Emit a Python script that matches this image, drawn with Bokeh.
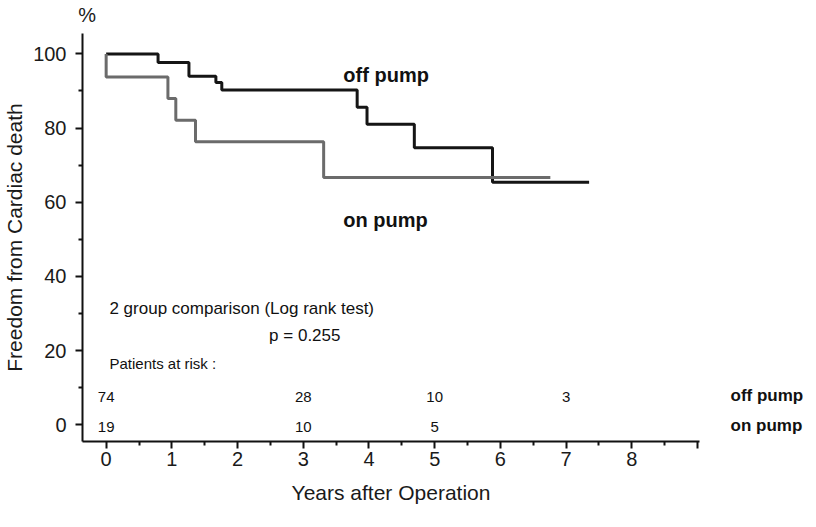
from bokeh.plotting import figure
from bokeh.models import Label, FixedTicker, ColumnDataSource, Range1d, LinearAxis
from bokeh.core.properties import value
from bokeh.embed import file_html
from bokeh.resources import INLINE

# Kaplan-Meier curves (years, % free from cardiac death)
off_years = [0, 0.79, 1.26, 1.67, 1.76, 3.82, 3.97, 4.69, 5.88, 7.35]
off_surv = [100, 97.7, 94.0, 92.3, 90.3, 85.6, 81.0, 74.7, 65.4, 65.4]
on_years = [0, 0, 0.94, 1.06, 1.36, 3.31, 6.76]
on_surv = [100, 93.8, 88.0, 82.1, 76.3, 66.7, 66.7]

# Patients at risk
risk_years_off = [0, 3, 5, 7]
risk_off = ["74", "28", "10", "3"]
risk_years_on = [0, 3, 5]
risk_on = ["19", "10", "5"]
risk_groups = ["off pump", "on pump"]

x_ticks = [0, 1, 2, 3, 4, 5, 6, 7, 8, 9]
x_minor = [0.5, 1.5, 2.5, 3.5, 4.5, 5.5, 6.5, 7.5, 8.5]
y_ticks = [0, 20, 40, 60, 80, 100]
y_minor = [10, 30, 50, 70, 90]

FONT = "Liberation Sans"

p = figure(width=806, height=511, output_backend="svg", toolbar_location=None,
           x_range=Range1d(-0.36, 9.03), y_range=Range1d(-4.5, 105.5),
           min_border_left=75, min_border_right=106, min_border_top=24,
           min_border_bottom=70)
p.outline_line_color = None
p.xgrid.visible = False
p.ygrid.visible = False
p.background_fill_color = "white"

for ax in (p.xaxis[0], p.yaxis[0]):
    ax.axis_line_width = 2
    ax.axis_line_color = "#111111"
    ax.major_tick_line_width = 2
    ax.minor_tick_line_width = 2
    ax.major_tick_line_color = "#111111"
    ax.minor_tick_line_color = "#111111"
    ax.major_tick_in = 0
    ax.major_tick_out = 7
    ax.minor_tick_in = 0
    ax.minor_tick_out = 4
    ax.major_label_text_font = FONT
    ax.major_label_text_font_size = "20px"
    ax.major_label_text_color = "#1a1a1a"
    ax.axis_label_text_font = FONT
    ax.axis_label_text_font_size = "21px"
    ax.axis_label_text_font_style = "normal"
    ax.axis_label_text_color = "#1a1a1a"

p.xaxis.ticker = FixedTicker(ticks=x_ticks, minor_ticks=x_minor)
p.xaxis.major_label_overrides = {9: ""}
p.xaxis.major_label_standoff = 3
p.xaxis.axis_label = "Years after Operation"
p.xaxis.axis_label_standoff = 12

p.yaxis.ticker = FixedTicker(ticks=y_ticks, minor_ticks=y_minor)
p.yaxis.major_label_standoff = 9
p.yaxis.axis_label = "Freedom from Cardiac death"
p.yaxis.axis_label_standoff = 4

# "%" unit marker above the y axis
pct_axis = LinearAxis(ticker=FixedTicker(ticks=[-0.29], minor_ticks=[]),
                      major_label_overrides={-0.29: "%"},
                      axis_line_color=None, major_tick_line_color=None,
                      minor_tick_line_color=None, major_label_standoff=2,
                      major_label_text_font=FONT, major_label_text_font_size="20px",
                      major_label_text_color="#1a1a1a")
p.add_layout(pct_axis, "above")

# group names of the at-risk rows, on the right
risk_axis = LinearAxis(ticker=FixedTicker(ticks=[7.9, -0.2], minor_ticks=[]),
                       major_label_overrides={7.9: risk_groups[0], -0.2: risk_groups[1]},
                       axis_line_color=None, major_tick_line_color=None,
                       minor_tick_line_color=None, major_label_standoff=25,
                       major_label_text_font=FONT, major_label_text_font_size="17px",
                       major_label_text_font_style="bold",
                       major_label_text_color="#111111")
p.add_layout(risk_axis, "right")

p.step(off_years, off_surv, mode="after", line_color="#151515", line_width=3)
p.step(on_years, on_surv, mode="after", line_color="#6b6b6b", line_width=3)

def lab(x, y, text, size, bold=False, align="left", baseline="middle"):
    p.add_layout(Label(x=x, y=y, text=text, text_font=FONT, text_font_size=size,
                       text_font_style="bold" if bold else "normal",
                       text_align=align, text_baseline=baseline, text_color="#111111"))

lab(3.61, 94.2, "off pump", "20px", bold=True)
lab(3.61, 55.1, "on pump", "20px", bold=True)
lab(0.05, 31.4, "2 group comparison (Log rank test)", "17px")
lab(2.48, 24.0, "p = 0.255", "17px")
lab(0.05, 16.4, "Patients at risk :", "15px")

src_off = ColumnDataSource(dict(x=risk_years_off, y=[7.4] * len(risk_off), t=risk_off))
src_on = ColumnDataSource(dict(x=risk_years_on, y=[-0.6] * len(risk_on), t=risk_on))
for s in (src_off, src_on):
    p.text(x="x", y="y", text="t", source=s, text_font=value(FONT), text_font_size="15px",
           text_align="center", text_baseline="middle", text_color="#111111")

open("out.html", "w").write(file_html(p, INLINE))
